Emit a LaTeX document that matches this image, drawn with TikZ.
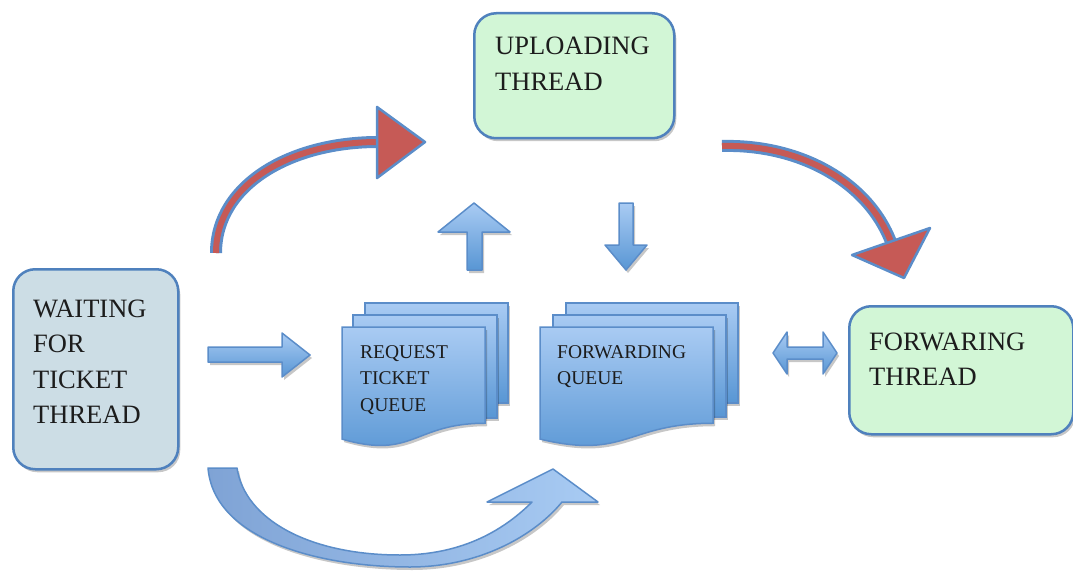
\documentclass[tikz,border=0pt]{standalone}
\usepackage{fontspec}
\setmainfont{Liberation Serif}
\usetikzlibrary{shadows}

\definecolor{edgeblue}{HTML}{4F81BD}
\definecolor{lineblue}{HTML}{5B8DC9}
\definecolor{waitfill}{HTML}{CCDDE5}
\definecolor{greenfill}{HTML}{D2F6D6}
\definecolor{sheettop}{HTML}{A9CBF3}
\definecolor{sheetbot}{HTML}{5896D4}
\definecolor{redfill}{HTML}{C65A56}
\definecolor{curveleft}{HTML}{7FA3D5}
\definecolor{curveright}{HTML}{A8CBF3}
\definecolor{ink}{HTML}{1C1C1C}

% one page of a stacked document: top-left x, y, width, height
\newcommand\docsheet[4]{%
  \path[sheet] (#1,#2) -- ({#1+#3},#2) -- ({#1+#3},{#2+0.802*#4})
    .. controls ({#1+0.5*#3},{#2+0.802*#4}) and ({#1+0.5*#3},{#2+1.107*#4})
    .. (#1,{#2+0.934*#4}) -- cycle;}

\begin{document}
\begin{tikzpicture}[x=1pt,y=-1pt,
  shd/.style={drop shadow={shadow xshift=2pt,shadow yshift=-3pt,opacity=0.22,fill=black}},
  box/.style={draw=edgeblue,line width=2.5pt,rounded corners=22pt,shd,anchor=north west,inner sep=0pt},
  boxtext/.style={font=\fontsize{26.5}{35.5}\selectfont,text=ink,anchor=base west,inner sep=0pt,text width=180pt,align=left},
  qtext/.style={font=\fontsize{19.5}{26.5}\selectfont,text=ink,anchor=base west,inner sep=0pt,text width=150pt,align=left},
  sheet/.style={draw=lineblue,line width=1.5pt,top color=sheettop,bottom color=sheetbot,shd},
  blockarrow/.style={draw=lineblue,line width=1.5pt,top color=sheettop,bottom color=sheetbot,line join=round,shd},
  redhead/.style={fill=redfill,draw=lineblue,line width=2.5pt,line join=round},
]
\useasboundingbox (0,0) rectangle (1073,575);

% thread boxes
\node[box,fill=waitfill,minimum width=165pt,minimum height=200pt] (wait) at (12,268) {};
\node[box,fill=greenfill,minimum width=200pt,minimum height=125pt] (upload) at (473,12) {};
\node[box,fill=greenfill,minimum width=224pt,minimum height=128pt] (fwdthread) at (848,305) {};

\node[boxtext] (waittext) at (33,317) {WAITING\\FOR\\TICKET\\THREAD};
\node[boxtext] (uploadtext) at (495,55) {UPLOADING\\THREAD};
\node[boxtext] (fwdtext) at (869,350) {FORWARING\\THREAD};

% request ticket queue
\path[sheet] (365,303) rectangle (508,403);
\path[sheet] (353,315) rectangle (497,418);
\docsheet{342}{327}{143}{120}
\node[qtext] (rtq) at (360,358) {REQUEST\\TICKET\\QUEUE};

% forwarding queue
\path[sheet] (566,303) rectangle (738,403);
\path[sheet] (553,315) rectangle (726,417);
\docsheet{540}{327}{173}{120}
\node[qtext] (fwq) at (557,358) {FORWARDING\\QUEUE};

% straight block arrows
\path[blockarrow] (208,347) -- (282,347) -- (282,333) -- (310,355) -- (282,377)
  -- (282,362) -- (208,362) -- cycle;
\path[blockarrow] (467,270) -- (467,232) -- (438,232) -- (474,203) -- (510,232)
  -- (482,232) -- (482,270) -- cycle;
\path[blockarrow] (619,203) -- (633,203) -- (633,245) -- (647,245) -- (626,270)
  -- (605,245) -- (619,245) -- cycle;
\path[blockarrow] (773,353) -- (787,332) -- (787,347) -- (823,347) -- (823,332)
  -- (837,353) -- (823,374) -- (823,359) -- (787,359) -- (787,374) -- cycle;

% curved arrow under the queues
\path[draw=lineblue,line width=1.5pt,left color=curveleft,right color=curveright,line join=round,shd]
  (208,468) .. controls (214,540) and (320,567) .. (410,567)
  .. controls (480,567) and (535,535) .. (562,502)
  -- (598,502) -- (553,469) -- (487,502) -- (532,502)
  .. controls (492,542) and (445,555) .. (400,555)
  .. controls (310,555) and (245,520) .. (237,468) -- cycle;

% red curved arrows
\coordinate (rl0) at (216,253);
\coordinate (rl1) at (378,142);
\draw[line width=12pt,draw=lineblue] (rl0) .. controls (216,185) and (290,142) .. (rl1);
\draw[line width=6pt,draw=redfill] (rl0) .. controls (216,185) and (290,142) .. (rl1);
\path[redhead] (377,107) -- (425,142) -- (377,178) -- cycle;

\coordinate (rr0) at (722,146);
\coordinate (rr1) at (891,242);
\draw[line width=12pt,draw=lineblue] (rr0) .. controls (800,144) and (868,182) .. (rr1);
\draw[line width=6pt,draw=redfill] (rr0) .. controls (800,144) and (868,182) .. (rr1);
\path[redhead] (852,255) -- (930,228) -- (904,278) -- cycle;
\end{tikzpicture}
\end{document}
